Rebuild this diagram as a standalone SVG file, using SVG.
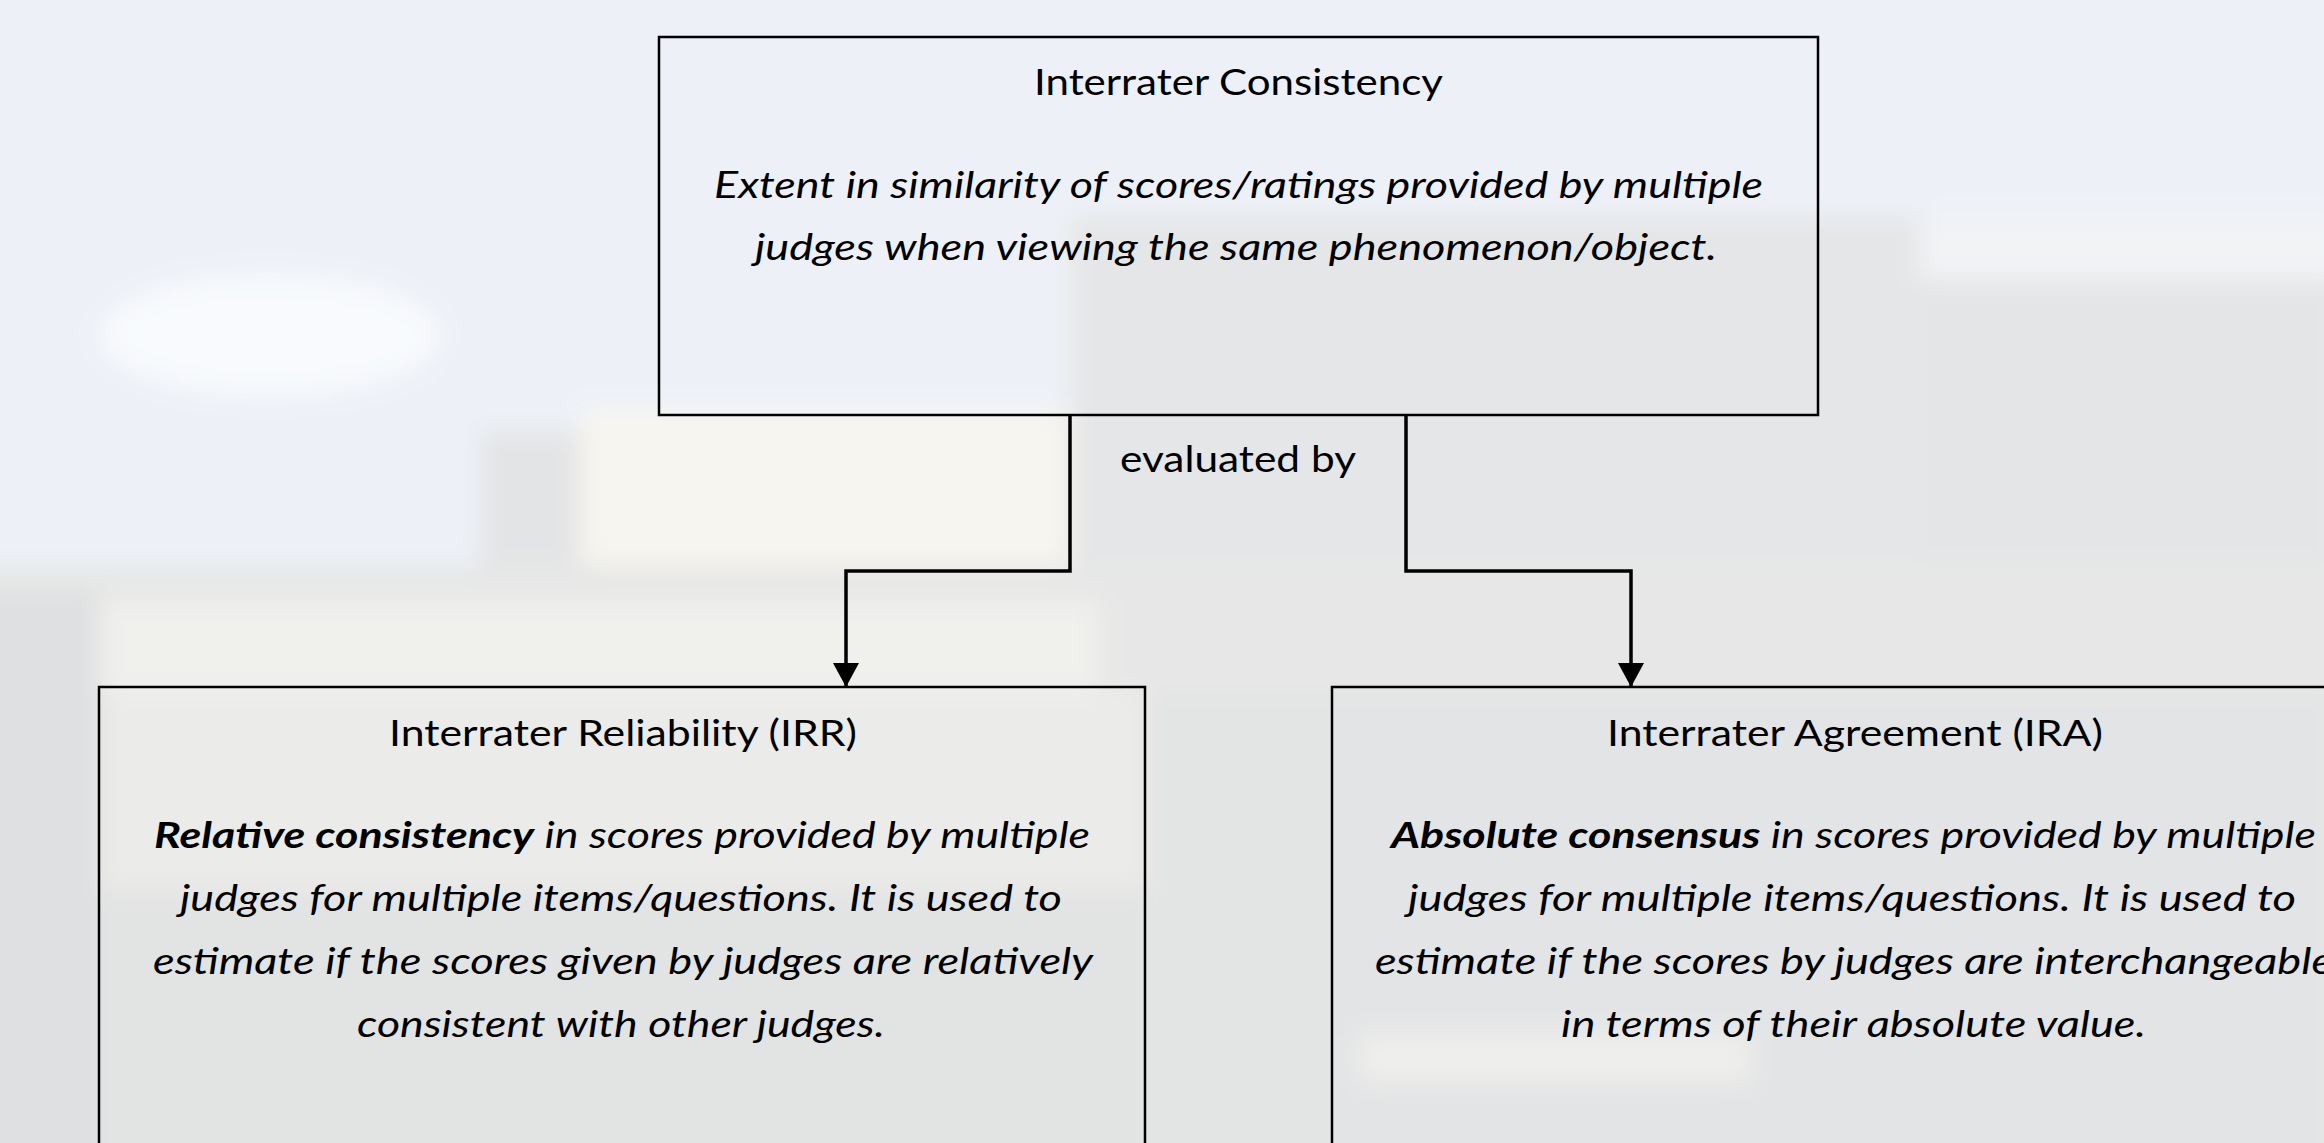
<svg xmlns="http://www.w3.org/2000/svg" width="2324" height="1143" viewBox="0 0 2324 1143">
<style>
.box{fill:none;stroke:#000;stroke-width:2.5}
.t{font-family:Lato,"Open Sans","Liberation Sans",sans-serif;font-size:36px;fill:#000;text-anchor:middle}
.i{font-style:italic}
.b{font-weight:bold}
.conn{fill:none;stroke:#000;stroke-width:3.5;stroke-linejoin:miter}
</style>
<defs>
<filter id="soft" x="-5%" y="-5%" width="110%" height="110%"><feGaussianBlur stdDeviation="12"/></filter>
<marker id="arr" markerUnits="userSpaceOnUse" markerWidth="24" markerHeight="26" refX="24" refY="13" orient="auto">
<path d="M0,0 L24,13 L0,26 Z" fill="#000"/>
</marker>
</defs>
<g id="background" filter="url(#soft)">
<rect x="-40" y="-40" width="2404" height="1223" fill="#edf1f7"/>
<ellipse cx="270" cy="335" rx="170" ry="60" fill="#f8fafd"/>
<rect x="1070" y="215" width="850" height="350" fill="#e5e6e7"/>
<rect x="1920" y="280" width="420" height="285" fill="#e4e5e6"/>
<rect x="1920" y="215" width="420" height="65" fill="#f1f3f5"/>
<rect x="480" y="430" width="100" height="140" fill="#e3e4e5"/>
<rect x="580" y="410" width="490" height="155" fill="#f7f5f0"/>
<rect x="-40" y="565" width="2404" height="620" fill="#e6e7e6"/>
<rect x="100" y="600" width="1000" height="90" fill="#f0f0ed"/>
<rect x="-40" y="590" width="140" height="600" fill="#dfe0e1"/>
<rect x="100" y="690" width="1046" height="200" fill="#ebebe9"/>
<rect x="100" y="890" width="1046" height="300" fill="#e2e3e3"/>
<rect x="1146" y="690" width="186" height="500" fill="#e3e4e4"/>
<rect x="1332" y="690" width="1000" height="500" fill="#e3e4e5"/>
<rect x="1360" y="1035" width="390" height="45" fill="#efefec"/>
</g>
<g id="connectors">
<path class="conn" d="M1070,415 V571 H846 V687" marker-end="url(#arr)"/>
<path class="conn" d="M1406,415 V571 H1631 V687" marker-end="url(#arr)"/>
<text class="t" x="1238" y="472" textLength="236" lengthAdjust="spacingAndGlyphs">evaluated by</text>
</g>
<g id="node-consistency">
<rect class="box" x="659" y="37" width="1159" height="378"/>
<text class="t" x="1238.5" y="95" textLength="409" lengthAdjust="spacingAndGlyphs">Interrater Consistency</text>
<text class="t i" x="1238.5" y="198" textLength="1049" lengthAdjust="spacingAndGlyphs">Extent in similarity of scores/ratings provided by multiple</text>
<text class="t i" x="1236" y="260" textLength="962" lengthAdjust="spacingAndGlyphs">judges when viewing the same phenomenon/object.</text>
</g>
<g id="node-irr">
<rect class="box" x="99" y="687" width="1046" height="500"/>
<text class="t" x="623" y="746" textLength="468" lengthAdjust="spacingAndGlyphs">Interrater Reliability (IRR)</text>
<text class="t i" x="622" y="848" textLength="936" lengthAdjust="spacingAndGlyphs"><tspan class="b">Relative consistency</tspan> in scores provided by multiple</text>
<text class="t i" x="621" y="911" textLength="882" lengthAdjust="spacingAndGlyphs">judges for multiple items/questions. It is used to</text>
<text class="t i" x="623" y="974" textLength="940" lengthAdjust="spacingAndGlyphs">estimate if the scores given by judges are relatively</text>
<text class="t i" x="621" y="1037" textLength="528" lengthAdjust="spacingAndGlyphs">consistent with other judges.</text>
</g>
<g id="node-ira">
<rect class="box" x="1332" y="687" width="1046" height="500"/>
<text class="t" x="1855" y="746" textLength="496" lengthAdjust="spacingAndGlyphs">Interrater Agreement (IRA)</text>
<text class="t i" x="1853.5" y="848" textLength="925" lengthAdjust="spacingAndGlyphs"><tspan class="b">Absolute consensus</tspan> in scores provided by multiple</text>
<text class="t i" x="1852" y="911" textLength="888" lengthAdjust="spacingAndGlyphs">judges for multiple items/questions. It is used to</text>
<text class="t i" x="1854" y="974" textLength="958" lengthAdjust="spacingAndGlyphs">estimate if the scores by judges are interchangeable</text>
<text class="t i" x="1853.5" y="1037" textLength="585" lengthAdjust="spacingAndGlyphs">in terms of their absolute value.</text>
</g>
</svg>
